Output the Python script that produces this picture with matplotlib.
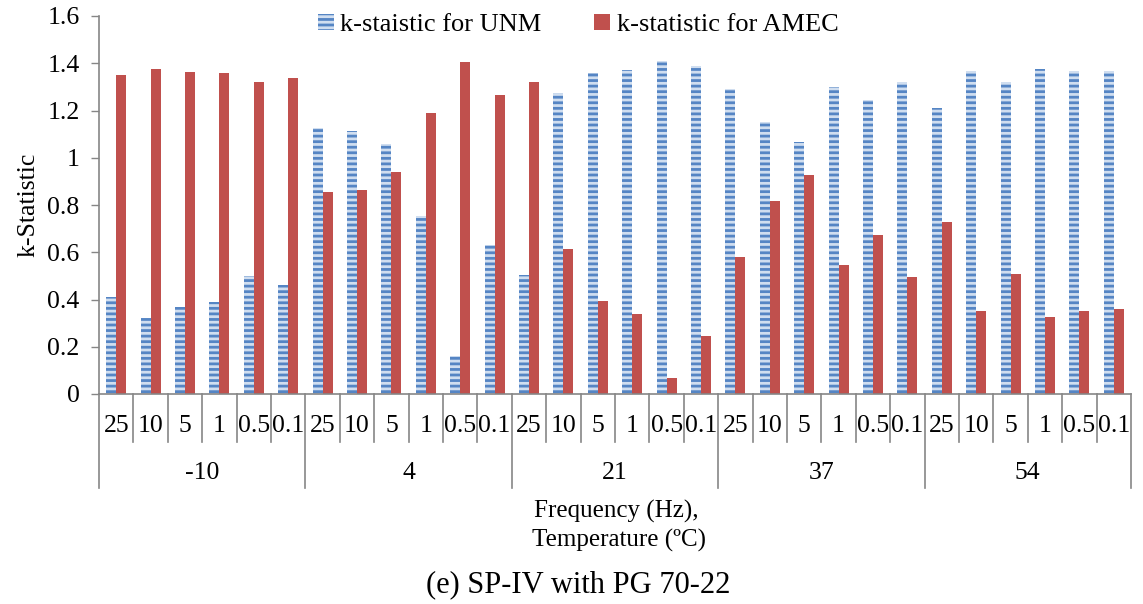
# k-statistic comparison chart, SP-IV with PG 70-22
import matplotlib
matplotlib.use('Agg')
import matplotlib.pyplot as plt
from matplotlib.patches import Patch

plt.rcParams['font.family'] = ['Liberation Serif', 'DejaVu Serif']
plt.rcParams['hatch.linewidth'] = 2.0

# data
freqs = ['25', '10', '5', '1', '0.5', '0.1']  # Hz
temps = ['-10', '4', '21', '37', '54']  # degC
unm = [0.41, 0.32, 0.37, 0.39, 0.50, 0.46,
       1.125, 1.113, 1.058, 0.753, 0.161, 0.631,
       0.504, 1.274, 1.360, 1.371, 1.411, 1.390,
       1.291, 1.151, 1.068, 1.298, 1.244, 1.322,
       1.209, 1.367, 1.319, 1.376, 1.367, 1.367]
amec = [1.352, 1.376, 1.363, 1.357, 1.321, 1.336,
        0.855, 0.862, 0.940, 1.190, 1.404, 1.266,
        1.321, 0.614, 0.392, 0.340, 0.068, 0.245,
        0.579, 0.817, 0.927, 0.548, 0.673, 0.495,
        0.728, 0.350, 0.508, 0.325, 0.351, 0.360]
yticks = [0, 0.2, 0.4, 0.6, 0.8, 1.0, 1.2, 1.4, 1.6]

blue_face = '#d0def0'
blue_line = '#5585c4'
red = '#c0504d'
gray = '#868686'
fs = 18.5

W, H = 1143, 604
fig = plt.figure(figsize=(W / 100, H / 100), dpi=100)
ax = fig.add_axes([99 / W, 1 - 394 / H, (1131 - 99) / W, 378 / H])

n = len(unm)
x = list(range(n))
bw = 0.29
ax.bar([v - bw / 2 for v in x], unm, width=bw, facecolor=blue_face,
       edgecolor=blue_line, linewidth=0, hatch='---')
ax.bar([v + bw / 2 for v in x], amec, width=bw, color=red, linewidth=0)

ax.set_xlim(-0.5, n - 0.5)
ax.set_ylim(0, 1.6)
ax.set_yticks(yticks)
ax.set_yticklabels([f'{v:g}' for v in yticks])
ax.set_xticks([])
ax.tick_params(axis='y', direction='out', length=6, color=gray, width=1,
               labelsize=fs, pad=8)
for s in ['top', 'right']:
    ax.spines[s].set_visible(False)
for s in ['left', 'bottom']:
    ax.spines[s].set_color(gray)
    ax.spines[s].set_linewidth(1.2)

# two-level category axis (frequency under temperature)
trans = ax.get_xaxis_transform()
short, long_ = 0.127, 0.249
k = 0
for t in temps:
    start = k
    for f in freqs:
        ax.text(k, -0.085, f, transform=trans, ha='center', va='center',
                fontsize=fs)
        if k != start:
            ax.plot([k - 0.5, k - 0.5], [0, -short], transform=trans,
                    clip_on=False, color=gray, lw=1.2)
        k += 1
    ax.plot([start - 0.5, start - 0.5], [0, -long_], transform=trans,
            clip_on=False, color=gray, lw=1.2)
    ax.text((start + k - 1) / 2, -0.209, t, transform=trans, ha='center',
            va='center', fontsize=fs)
ax.plot([n - 0.5, n - 0.5], [0, -long_], transform=trans, clip_on=False,
        color=gray, lw=1.2)

ax.set_ylabel('k-Statistic', fontsize=fs)
ax.yaxis.set_label_coords(-0.058, 0.5)

fig.text(616 / W, 1 - 518 / H, 'Frequency (Hz),', ha='center',
         va='baseline', fontsize=18)
fig.text(619 / W, 1 - 547 / H, 'Temperature (ºC)', ha='center',
         va='baseline', fontsize=18)
fig.text(578 / W, 1 - 592 / H, '(e) SP-IV with PG 70-22', ha='center',
         va='baseline', fontsize=22)

handles = [Patch(facecolor=blue_face, edgecolor=blue_line, linewidth=0,
                 hatch='---', label='k-staistic for UNM'),
           Patch(facecolor=red, label='k-statistic for AMEC')]
fig.legend(handles=handles, loc='center', bbox_to_anchor=(578 / W, 1 - 25 / H),
           ncol=2, frameon=False, fontsize=19, handlelength=0.6,
           handleheight=0.6, handletextpad=0.25, columnspacing=2.0,
           borderpad=0)

fig.savefig('out.png', dpi=100)
